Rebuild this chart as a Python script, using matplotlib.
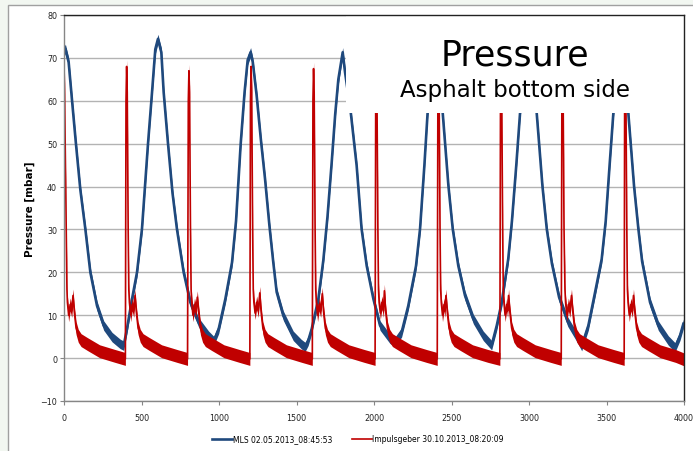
import matplotlib
matplotlib.use("Agg")
import matplotlib.pyplot as plt
from matplotlib.patches import Rectangle

# MLS 02.05.2013_08:45:53 (blue), one row per cycle
blue_x = [0, 9, 30, 52, 77, 105, 138, 170, 213, 256, 310, 363, 385,
          406, 439, 471, 503, 542, 568, 589, 606, 628, 643, 671, 700, 729, 772, 815, 869, 933, 966,
          998, 1041, 1084, 1110, 1140, 1165, 1185, 1204, 1218, 1243, 1270, 1297, 1325, 1350, 1372, 1415, 1479, 1530, 1555,
          1575, 1598, 1641, 1673, 1700, 1727, 1750, 1770, 1798, 1813, 1850, 1888, 1920, 1953, 1996, 2039, 2103, 2135,
          2178, 2221, 2271, 2297, 2325, 2346, 2375, 2400, 2425, 2443, 2480, 2508, 2544, 2587, 2641, 2705, 2759,
          2792, 2824, 2866, 2890, 2918, 2942, 2975, 3000, 3025, 3050, 3087, 3115, 3148, 3194, 3250, 3314, 3340,
          3383, 3426, 3469, 3495, 3520, 3544, 3575, 3600, 3625, 3641, 3678, 3706, 3730, 3781, 3834, 3899, 3942, 3974, 3996]
blue_y = [71.5, 72.1, 69, 60, 50, 39.4, 30, 20, 12.2, 7.6, 4.9, 3.3, 2.9,
          6.8, 13.8, 20, 30.1, 50, 62, 72, 74.4, 71.3, 62, 50, 38.5, 30, 20, 13, 8.3, 5.2, 4,
          6.8, 13.8, 22.3, 32, 50, 62, 69.5, 71.3, 69, 61.2, 51, 41.8, 31, 22.4, 15.4, 9.9, 5.2, 3.3, 2.6,
          4, 6.8, 13.8, 22.8, 33, 45.6, 57, 65, 71.3, 66.7, 57.3, 44.9, 30.1, 21.5, 13.8, 7.6, 4.5, 3.8,
          6, 12.2, 21.5, 30.1, 44.9, 57.3, 68, 72, 68, 57.3, 40.2, 30.1, 21.5, 14.6, 9.1, 5.2, 3.0,
          7.6, 13, 23.1, 32, 45, 57, 68, 72, 68, 57, 40, 30, 22, 14.2, 8.5, 4.6, 2.8,
          7.6, 15.3, 23.1, 32, 45, 57, 68, 72, 68, 57, 40, 30, 22.5, 13, 7.6, 4.1, 2.5, 5.2, 8]

# Impulsgeber 30.10.2013_08:20:09 (red), one row per impulse
red_x = [0, 3, 9, 15, 19, 22, 30, 40, 50, 58, 66, 78, 92, 110, 150, 230, 330, 396,
         400, 404, 408, 414, 418, 422, 430, 440, 450, 458, 466, 478, 492, 510, 550, 630, 730, 797,
         802, 806, 810, 816, 820, 824, 832, 842, 852, 860, 868, 880, 894, 912, 952, 1032, 1132, 1199,
         1203, 1207, 1211, 1217, 1221, 1225, 1233, 1243, 1253, 1263, 1271, 1283, 1297, 1315, 1355, 1435, 1535, 1602,
         1606, 1610, 1614, 1620, 1624, 1628, 1636, 1646, 1656, 1666, 1674, 1686, 1700, 1718, 1758, 1838, 1938, 2007,
         2011, 2015, 2019, 2025, 2029, 2033, 2041, 2051, 2061, 2067, 2075, 2087, 2101, 2119, 2159, 2239, 2339, 2408,
         2412, 2416, 2420, 2426, 2430, 2434, 2442, 2452, 2458, 2464, 2472, 2484, 2498, 2516, 2556, 2636, 2736, 2812,
         2816, 2820, 2824, 2830, 2834, 2838, 2846, 2856, 2862, 2868, 2876, 2888, 2902, 2920, 2960, 3040, 3140, 3208,
         3212, 3216, 3220, 3226, 3232, 3236, 3244, 3254, 3264, 3274, 3282, 3294, 3308, 3326, 3366, 3446, 3546, 3614,
         3617, 3621, 3625, 3631, 3635, 3639, 3647, 3657, 3667, 3674, 3682, 3694, 3708, 3726, 3766, 3846, 3946, 4000]
red_y = [68, 64, 45, 28, 16, 13, 10, 12.5, 11, 14.6, 11, 7, 5.2, 4.2, 3.3, 1.6, 0.5, -0.2,
         60, 68, 62, 30, 16, 13, 10, 12.5, 11, 14.6, 11, 7, 5.2, 4.2, 3.3, 1.6, 0.5, -0.2,
         60, 67, 62, 30, 16, 13, 10, 12.5, 11, 14.2, 11, 7, 5.2, 4.2, 3.3, 1.6, 0.5, -0.2,
         60, 68, 62, 30, 16, 13, 10.5, 13, 11, 15.2, 11, 7, 5.2, 4.2, 3.3, 1.6, 0.5, -0.2,
         60, 67.5, 62, 30, 16, 13, 10, 12.5, 11, 15, 11, 7, 5.2, 4.2, 3.3, 1.6, 0.5, -0.2,
         60, 68, 62, 30, 16, 13, 10.5, 13, 11, 15.7, 11, 7, 5.2, 4.2, 3.3, 1.6, 0.5, -0.2,
         60, 68, 62, 30, 16, 13, 10, 12.5, 11, 14.6, 11, 7, 5.2, 4.2, 3.3, 1.6, 0.5, -0.2,
         60, 68, 62, 30, 16, 13, 10, 12.5, 11, 14.6, 11, 7, 5.2, 4.2, 3.3, 1.6, 0.5, -0.2,
         60, 68, 62, 30, 16, 13, 10, 12.5, 11, 14.6, 11, 7, 5.2, 4.2, 3.3, 1.6, 0.5, -0.2,
         60, 68, 62, 30, 16, 13, 10, 12.5, 11, 14.6, 11, 7, 5.2, 4.2, 3.3, 1.6, 0.5, -0.3]

blue_label = "MLS 02.05.2013_08:45:53"
red_label = "Impulsgeber 30.10.2013_08:20:09"
blue_col = "#1F497D"
red_col = "#C00000"

fig = plt.figure(figsize=(6.93, 4.52), dpi=100, facecolor="#f2f7f1")
fig.patches.append(Rectangle((8/693, -0.1), 1.0, (452-6)/452 + 0.1,
                             transform=fig.transFigure, fc="white",
                             ec="#a0a0a0", lw=1, zorder=-1))

ax = fig.add_axes([64/693, 50/452, 620/693, 386/452])
ax.set_facecolor("white")

# vertical noise band of the measurement + centre line
ax.fill_between(blue_x, [v - 1.1 for v in blue_y], [v + 1.1 for v in blue_y],
                color=blue_col, lw=0, zorder=2)
ax.plot(blue_x, blue_y, color=blue_col, lw=1.9, zorder=2, label=blue_label)
ax.fill_between(red_x, [v - 1.5 for v in red_y], [v + 1.5 for v in red_y],
                color=red_col, lw=0, zorder=2.1)
ax.plot(red_x, red_y, color=red_col, lw=1.2, zorder=2.1, label=red_label)

# white title box over the upper right part
ax.add_patch(Rectangle((1817, 57.1), 2200, 25, fc="white", ec="none", zorder=3))

ax.set_xlim(0, 4000)
ax.set_ylim(-10, 80)
ax.set_xticks(range(0, 4001, 500))
ax.set_yticks(range(-10, 81, 10))
ax.grid(axis="y", color="#b3b3b3", lw=1)
ax.set_axisbelow(True)
ax.tick_params(labelsize=5.8, length=3, width=0.8, color="#868686",
               labelcolor="#222222", pad=2)
ax.tick_params(axis="x", pad=6)
for s in ["left", "bottom"]:
    ax.spines[s].set_color("#868686")
for s in ["top", "right"]:
    ax.spines[s].set_color("#222222")
for s in ax.spines.values():
    s.set_zorder(4)
    s.set_linewidth(1)

ax.set_ylabel("Pressure [mbar]", fontsize=7.5, fontweight="bold", labelpad=4)

fig.text(515/693, 1 - 55/452, "Pressure", fontsize=25, ha="center", va="center")
fig.text(515/693, 1 - 90/452, "Asphalt bottom side", fontsize=16.5,
         ha="center", va="center")

fig.legend(loc="center", bbox_to_anchor=(358/693, 12/452), ncol=2, frameon=False,
           fontsize=5.5, handlelength=2.6, handletextpad=0.1, columnspacing=2.6)

fig.savefig("out.png", dpi=100, facecolor=fig.get_facecolor())
